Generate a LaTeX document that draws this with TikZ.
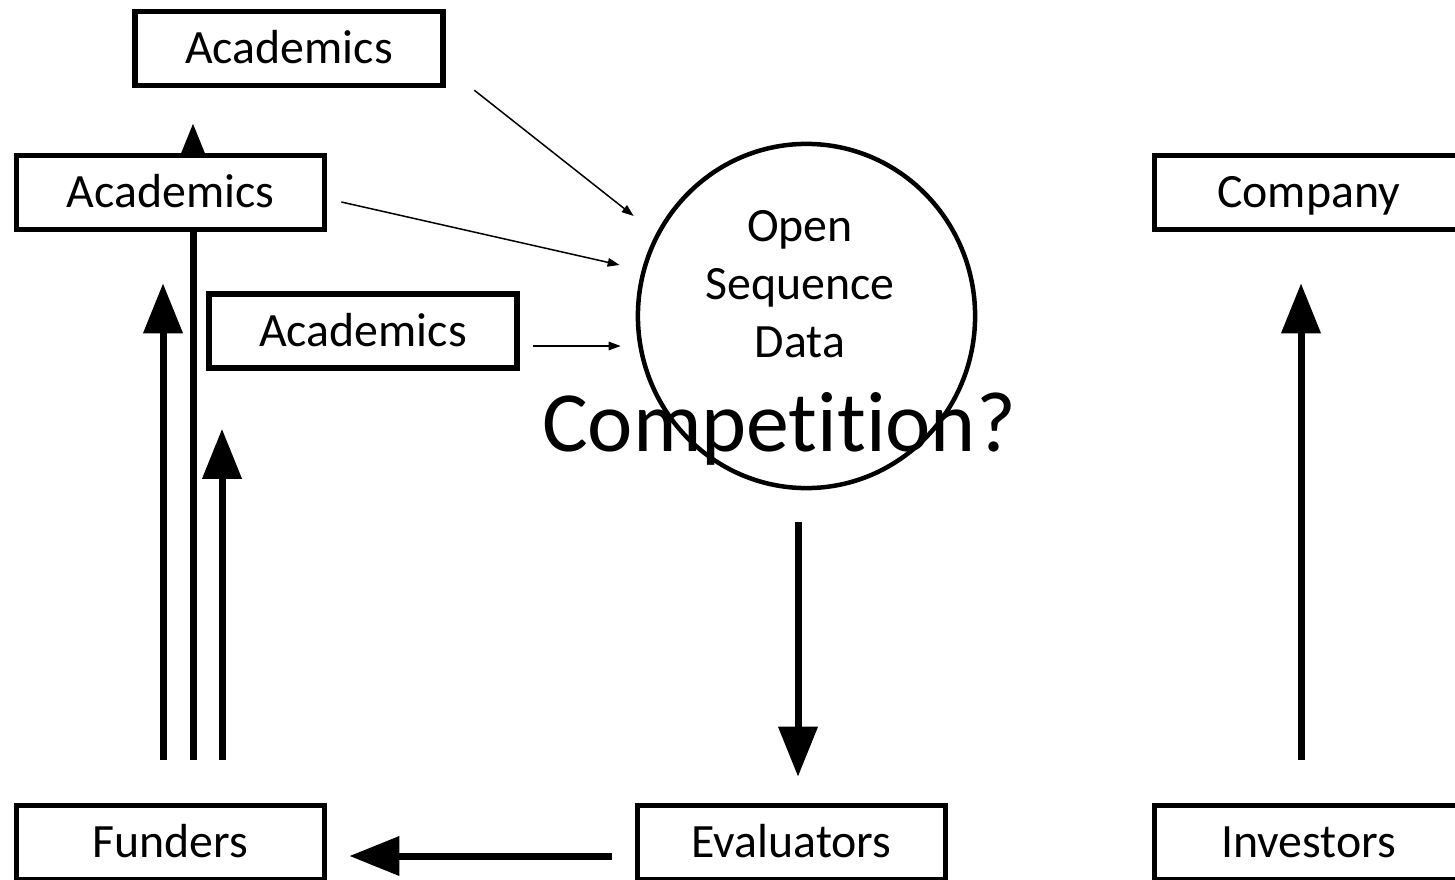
\documentclass[tikz,border=0pt]{standalone}
\usepackage{fontspec}
\setmainfont[Ligatures={NoCommon}]{Carlito}
\usetikzlibrary{arrows.meta,backgrounds,shapes.geometric}
\begin{document}
\begin{tikzpicture}[x=0.01cm,y=-0.01cm,
  box/.style={draw, line width=0.055cm, fill=white, minimum width=3.08cm, minimum height=0.74cm,
    inner sep=0pt, font=\fontsize{13.6pt}{16.4pt}\selectfont, text height=8.8pt, text depth=0pt},
  bigarr/.style={line width=0.07cm, -{Triangle[length=0.5cm,width=0.38cm]}},
  smallarr/.style={line width=0.015cm, -{Triangle[length=0.12cm,width=0.085cm]}}]
\useasboundingbox (0,0) rectangle (1455,879);
\clip (0,0) rectangle (1455,879);
\node[box] (a1) at (289,48.5) {Academics};
\node[box] (a2) at (170.5,192.5) {Academics};
\node[box] (a3) at (363,331) {Academics};
\node[box] (comp) at (1308.5,192.5) {Company};
\node[box] (fund) at (170.5,842.5) {Funders};
\node[box] (eval) at (791.5,842.5) {Evaluators};
\node[box] (inv) at (1308.5,842.5) {Investors};
\node[draw, ellipse, line width=0.045cm, minimum width=3.37cm, minimum height=3.44cm, inner sep=0pt] (osd) at (806.5,316) {};
\node[align=center, font=\fontsize{13.6pt}{16.4pt}\selectfont] (osdtext) at (800,284) {Open\\Sequence\\Data};
\node[anchor=base, font=\fontsize{24.4pt}{28pt}\selectfont] (compq) at (779,451) {Competition?};
% thin arrows
\draw[smallarr] ([shift={(28.5,2)}]a1.south east) -- ([shift={(-2,-100)}]osd.west);
\draw[smallarr] ([shift={(14,9.5)}]a2.east) -- ([shift={(-16,-51)}]osd.west);
\draw[smallarr] ([shift={(13.5,15)}]a3.east) -- ([shift={(-15,30)}]osd.west);
% thick arrows
\draw[bigarr] ([shift={(-7.5,-43)}]fund.north) -- ([shift={(-7.5,51)}]a2.south);
\begin{pgfonlayer}{background}
\draw[bigarr] ([shift={(22.5,-43)}]fund.north) -- ([shift={(-96,35)}]a1.south);
\end{pgfonlayer}
\draw[bigarr] ([shift={(51.5,-43)}]fund.north) -- ([shift={(-141,58)}]a3.south);
\draw[bigarr] ([shift={(-8.5,32)}]osd.south) -- ([shift={(6.5,-26)}]eval.north);
\draw[bigarr] ([shift={(-23,13.5)}]eval.west) -- ([shift={(22,13.5)}]fund.east);
\draw[bigarr] ([shift={(-7.5,-43)}]inv.north) -- ([shift={(-7.5,51)}]comp.south);
\end{tikzpicture}
\end{document}
